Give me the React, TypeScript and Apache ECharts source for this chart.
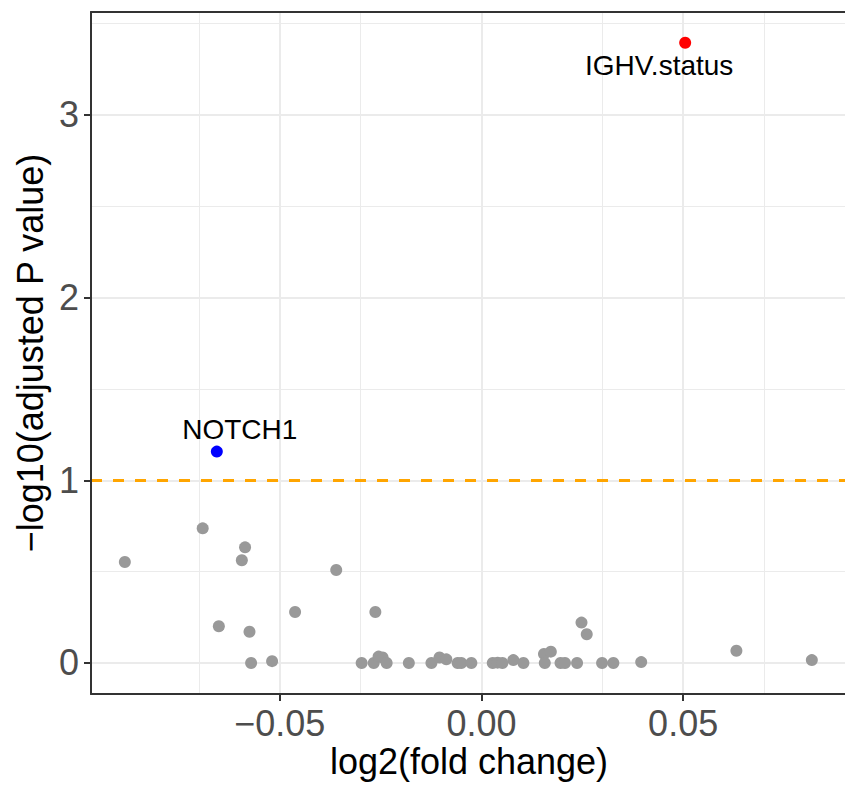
import React, { useEffect, useRef } from "react";
import * as echarts from "echarts";

// log2 fold change (x) and -log10 adjusted p value (y) for non-significant genes
const grayX = [
  -0.0884, -0.0691, -0.0586, -0.0594, -0.036, -0.0462, -0.0263, -0.0651, -0.0575,
  -0.0571, -0.0519, -0.0297, -0.0267, -0.0255, -0.0245, -0.0235, -0.018, -0.0124,
  -0.0104, -0.0087, -0.0059, -0.005, -0.0025, 0.0028, 0.004, 0.0052, 0.0079, 0.0104,
  0.0155, 0.0157, 0.0172, 0.0196, 0.0207, 0.0237, 0.0248, 0.0261, 0.0299, 0.0327,
  0.0396, 0.0632, 0.0819,
];
const grayY = [
  0.553, 0.737, 0.633, 0.562, 0.509, 0.279, 0.279, 0.201, 0.171,
  0.0, 0.01, 0.0, 0.0, 0.035, 0.03, 0.0, 0.0, 0.0,
  0.03, 0.02, 0.0, 0.0, 0.0, 0.0, 0.002, 0.0, 0.016, 0.0,
  0.049, 0.0, 0.062, 0.0, 0.0, 0.0, 0.221, 0.157, 0.0, 0.0,
  0.005, 0.067, 0.016,
];

// labelled genes
const downGene = "NOTCH1";
const downX = -0.0656;
const downY = 1.157;
const upGene = "IGHV.status";
const upX = 0.0505;
const upY = 3.395;

const threshold = 1;

const xMajor = [-0.05, 0, 0.05];
const xMinor = [-0.075, -0.025, 0.025, 0.075];
const yMajor = [0, 1, 2, 3];
const yMinor = [0.5, 1.5, 2.5, 3.5];

const xMin = -0.09679;
const xMax = 0.09012;
const yMin = -0.1697;
const yMax = 3.5632;

const FONT = "'Liberation Sans', Arial, Helvetica, sans-serif";

export default function App() {
  const ref = useRef<HTMLDivElement>(null);

  useEffect(() => {
    document.body.style.margin = "0";
    if (!ref.current) return;
    const chart = echarts.init(ref.current, null, { renderer: "svg" });

    const gridData: any[] = [
      ...xMinor.map((v) => ({ xAxis: v, lineStyle: { color: "#EBEBEB", width: 1, type: "solid" } })),
      ...yMinor.map((v) => ({ yAxis: v, lineStyle: { color: "#EBEBEB", width: 1, type: "solid" } })),
      ...xMajor.map((v) => ({ xAxis: v, lineStyle: { color: "#EBEBEB", width: 2, type: "solid" } })),
      ...yMajor.map((v) => ({ yAxis: v, lineStyle: { color: "#EBEBEB", width: 2, type: "solid" } })),
    ];

    const labelBase = {
      show: true,
      color: "#000000",
      fontSize: 28,
      fontFamily: FONT,
      position: "inside" as const,
    };

    const option: any = {
      animation: false,
      backgroundColor: "#FFFFFF",
      textStyle: { fontFamily: FONT },
      grid: { left: 91, top: 12, right: -3, bottom: 92, show: false, containLabel: false },
      xAxis: [
        {
          type: "value",
          min: xMin,
          max: xMax,
          z: 10,
          splitLine: { show: false },
          axisLine: { show: true, onZero: false, lineStyle: { color: "#333333", width: 2 } },
          axisTick: {
            show: true,
            customValues: xMajor,
            length: 7,
            inside: false,
            lineStyle: { color: "#333333", width: 2 },
          },
          axisLabel: {
            show: true,
            customValues: xMajor,
            margin: 11,
            fontSize: 36,
            color: "#4D4D4D",
            fontFamily: FONT,
            formatter: (v: number) => (v < 0 ? "\u2212" : "") + Math.abs(v).toFixed(2),
          },
        },
        {
          type: "value",
          position: "top",
          min: xMin,
          max: xMax,
          z: 10,
          splitLine: { show: false },
          axisLine: { show: true, onZero: false, lineStyle: { color: "#333333", width: 2 } },
          axisTick: { show: false },
          axisLabel: { show: false },
        },
      ],
      yAxis: {
        type: "value",
        min: yMin,
        max: yMax,
        z: 10,
        splitLine: { show: false },
        axisLine: { show: true, onZero: false, lineStyle: { color: "#333333", width: 2 } },
        axisTick: {
          show: true,
          customValues: yMajor,
          length: 7,
          inside: false,
          lineStyle: { color: "#333333", width: 2 },
        },
        axisLabel: {
          show: true,
          customValues: yMajor,
          margin: 12,
          fontSize: 36,
          color: "#4D4D4D",
          fontFamily: FONT,
          formatter: (v: number) => String(v),
        },
      },
      graphic: [
        {
          type: "text",
          x: 469,
          y: 761,
          style: {
            text: "log2(fold change)",
            fontSize: 36,
            fontFamily: FONT,
            fill: "#000000",
            align: "center",
            verticalAlign: "middle",
          },
        },
        {
          type: "text",
          x: 30,
          y: 353,
          rotation: Math.PI / 2,
          style: {
            text: "\u2212log10(adjusted P value)",
            fontSize: 36,
            fontFamily: FONT,
            fill: "#000000",
            align: "center",
            verticalAlign: "middle",
          },
        },
      ],
      series: [
        {
          name: "grid",
          type: "scatter",
          data: [],
          silent: true,
          markLine: {
            silent: true,
            z: 1,
            symbol: ["none", "none"],
            label: { show: false },
            emphasis: { disabled: true },
            data: gridData,
          },
        },
        {
          name: "threshold",
          type: "scatter",
          data: [],
          silent: true,
          markLine: {
            silent: true,
            z: 3,
            symbol: ["none", "none"],
            label: { show: false },
            emphasis: { disabled: true },
            data: [
              {
                yAxis: threshold,
                lineStyle: { color: "#FFA500", width: 2.8, type: [11, 11] },
              },
            ],
          },
        },
        {
          name: "ns",
          type: "scatter",
          z: 5,
          symbolSize: 12,
          itemStyle: { color: "#999999", opacity: 1 },
          data: grayX.map((x, i) => [x, grayY[i]]),
        },
        {
          name: "down",
          type: "scatter",
          z: 6,
          symbolSize: 12,
          itemStyle: { color: "#0000FF", opacity: 1 },
          label: { ...labelBase, formatter: downGene, offset: [23, -22] },
          data: [[downX, downY]],
        },
        {
          name: "up",
          type: "scatter",
          z: 6,
          symbolSize: 12,
          itemStyle: { color: "#FF0000", opacity: 1 },
          label: { ...labelBase, formatter: upGene, offset: [-26, 23] },
          data: [[upX, upY]],
        },
      ],
    };

    chart.setOption(option);
    return () => {
      chart.dispose();
    };
  }, []);

  return <div ref={ref} style={{ width: 845, height: 786 }} />;
}
